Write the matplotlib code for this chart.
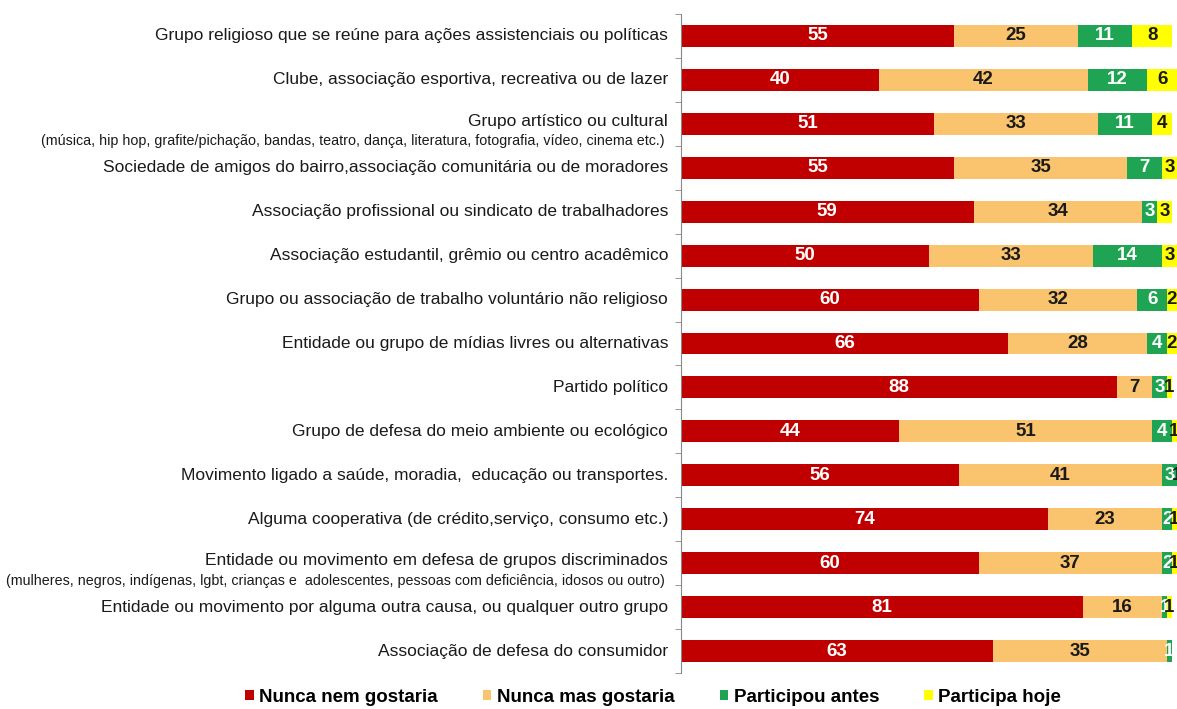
import numpy as np
import matplotlib.pyplot as plt

plt.rcParams['font.family'] = ['Liberation Sans', 'DejaVu Sans']

categorias = [
    "Grupo religioso que se reúne para ações assistenciais ou políticas",
    "Clube, associação esportiva, recreativa ou de lazer",
    "Grupo artístico ou cultural",
    "Sociedade de amigos do bairro,associação comunitária ou de moradores",
    "Associação profissional ou sindicato de trabalhadores",
    "Associação estudantil, grêmio ou centro acadêmico",
    "Grupo ou associação de trabalho voluntário não religioso",
    "Entidade ou grupo de mídias livres ou alternativas",
    "Partido político",
    "Grupo de defesa do meio ambiente ou ecológico",
    "Movimento ligado a saúde, moradia,  educação ou transportes.",
    "Alguma cooperativa (de crédito,serviço, consumo etc.)",
    "Entidade ou movimento em defesa de grupos discriminados",
    "Entidade ou movimento por alguma outra causa, ou qualquer outro grupo",
    "Associação de defesa do consumidor",
]
subtitulos = {
    2: "(música, hip hop, grafite/pichação, bandas, teatro, dança, literatura, fotografia, vídeo, cinema etc.)",
    12: "(mulheres, negros, indígenas, lgbt, crianças e  adolescentes, pessoas com deficiência, idosos ou outro)",
}

nunca_nem = [55, 40, 51, 55, 59, 50, 60, 66, 88, 44, 56, 74, 60, 81, 63]
nunca_mas = [25, 42, 33, 35, 34, 33, 32, 28, 7, 51, 41, 23, 37, 16, 35]
participou = [11, 12, 11, 7, 3, 14, 6, 4, 3, 4, 3, 2, 2, 1, 1]
participa = [8, 6, 4, 3, 3, 3, 2, 2, 1, 1, 1, 1, 1, 1, 0]

series = [
    ("Nunca nem gostaria", nunca_nem, "#C00000", "white"),
    ("Nunca mas gostaria", nunca_mas, "#FAC46E", "#1a1a1a"),
    ("Participou antes", participou, "#1FA454", "white"),
    ("Participa hoje", participa, "#FFFF00", "#1a1a1a"),
]

fig = plt.figure(figsize=(11.77, 7.09), dpi=100)
ax = fig.add_axes([681 / 1177, 1 - 673 / 709, 1 - 681 / 1177, 659 / 709])

y = np.arange(len(categorias))
left = np.zeros(len(categorias))
for nome, vals, cor, cor_txt in series:
    vals = np.array(vals, dtype=float)
    bars = ax.barh(y, vals, left=left, height=0.5, color=cor, label=nome)
    rot = [f"{int(v)}" if v > 0 else "" for v in vals]
    ax.bar_label(bars, labels=rot, label_type='center', color=cor_txt,
                 fontsize=13.5, fontweight='bold')
    left += vals

ax.set_xlim(0, 100)
ax.set_ylim(len(categorias) - 0.5, -0.5)
ax.set_xticks([])
ax.set_yticks([])
ax.set_yticks(np.arange(len(categorias) + 1) - 0.5, minor=True)
ax.tick_params(axis='y', which='minor', length=4, color='#888888', direction='out')
for s in ['top', 'right', 'bottom']:
    ax.spines[s].set_visible(False)
ax.spines['left'].set_color('#888888')

# category labels, with the longer explanations on a second smaller line
for i, cat in enumerate(categorias):
    if i in subtitulos:
        ax.annotate(cat, xy=(0, i - 0.05), xycoords=('axes fraction', 'data'),
                    xytext=(-13, 0), textcoords='offset pixels',
                    ha='right', va='center', fontsize=12.5, color='#1a1a1a')
        ax.annotate(subtitulos[i], xy=(0, i + 0.4), xycoords=('axes fraction', 'data'),
                    xytext=(-16, 0), textcoords='offset pixels',
                    ha='right', va='center', fontsize=10.3, color='#1a1a1a')
    else:
        ax.annotate(cat, xy=(0, i), xycoords=('axes fraction', 'data'),
                    xytext=(-13, 0), textcoords='offset pixels',
                    ha='right', va='center', fontsize=12.5, color='#1a1a1a')

handles, labels = ax.get_legend_handles_labels()
fig.legend(handles, labels, loc='center', bbox_to_anchor=(0.555, 1 - 697 / 709),
           ncol=4, frameon=False, handlelength=0.45, handleheight=0.45,
           handletextpad=0.3, columnspacing=2.4,
           prop={'size': 13.5, 'weight': 'bold'})

fig.savefig('out.png', dpi=100)
